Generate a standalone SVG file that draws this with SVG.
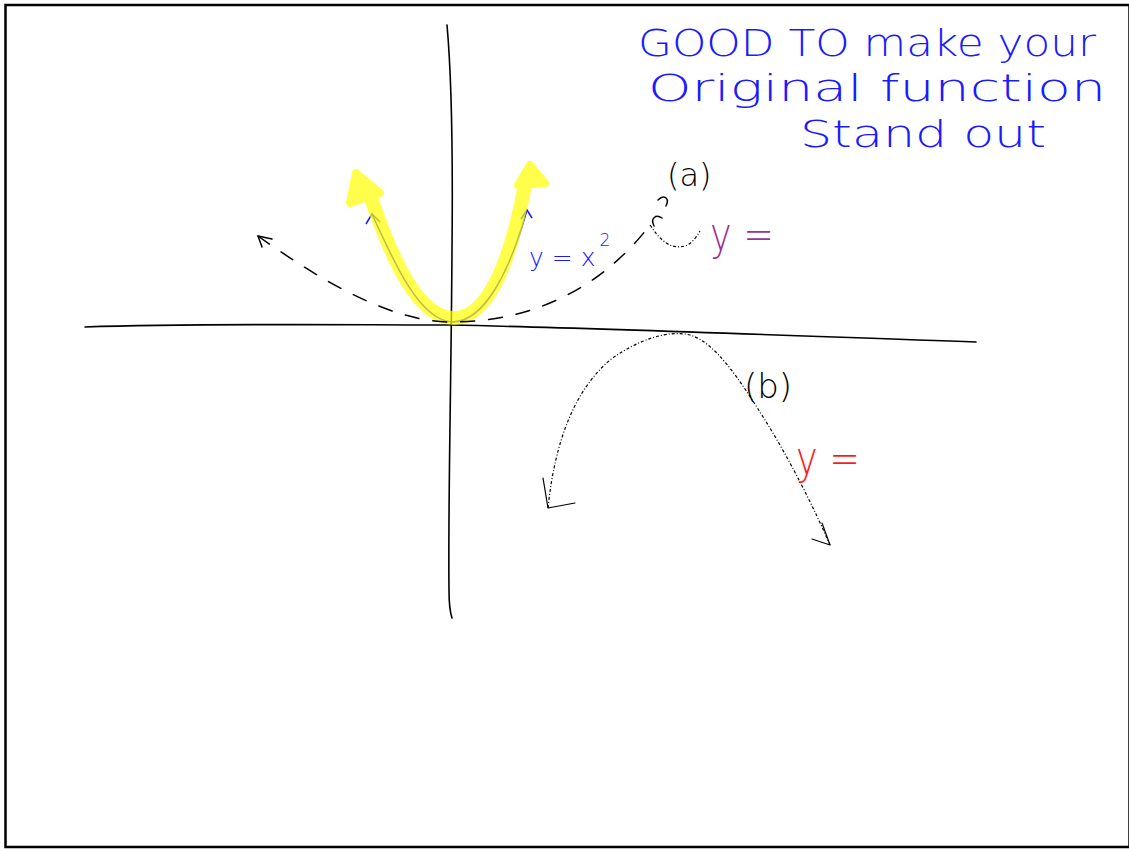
<svg xmlns="http://www.w3.org/2000/svg" width="1129" height="849" viewBox="0 0 1129 849">
<style>
.hand{font-family:"DejaVu Sans ExtraLight","DejaVu Sans","Liberation Sans",sans-serif;font-weight:200}
.axis{fill:none;stroke:#000;stroke-width:1.6;stroke-linecap:round}
.dash{fill:none;stroke:#000;stroke-width:1.5;stroke-dasharray:14 14;stroke-linecap:round}
.dot{fill:none;stroke:#000;stroke-width:1.2;stroke-dasharray:3 2 1 2}
.thin{fill:none;stroke:#000;stroke-width:1.5;stroke-linecap:round;stroke-linejoin:round}
</style>
<rect x="0" y="0" width="1129" height="849" fill="#fff"/>
<rect x="5.5" y="5" width="1124" height="842" fill="none" stroke="#000" stroke-width="2.5"/>
<g id="axes">
<path class="axis" d="M85,327 C200,323 350,325 450,325 C600,328 800,336 976,342"/>
<path class="axis" d="M447,25 C452,80 453,150 452,250 C451,400 448,500 449,590 C449,605 450,612 452,618"/>
</g>
<g id="original-function">
<path d="M372,214 C395,265 420,320 452,322 C485,322 510,270 527,210" fill="none" stroke="#1a1aff" stroke-width="1.5"/>
<path d="M366,224 L372,214 L380,222 M521,219 L527,210 L532,218" fill="none" stroke="#1a1aff" stroke-width="1.5"/>
<g opacity="0.7">
<path d="M370,195 C392,260 418,318 454,318 C490,318 512,255 526,180" fill="none" stroke="#ffff00" stroke-width="14" stroke-linecap="round"/>
<path d="M350,203 L356,173 L380,193 Z" fill="#ffff00" stroke="#ffff00" stroke-width="8" stroke-linejoin="round"/>
<path d="M518,185 L530,165 L545,183 Z" fill="#ffff00" stroke="#ffff00" stroke-width="8" stroke-linejoin="round"/>
</g>
<text class="hand" x="529" y="266" font-size="25" fill="#1a1aff">y = x<tspan font-size="17" dx="4" dy="-20">2</tspan></text>
</g>
<g id="connectors">
<path class="dash" d="M258,236 C320,280 390,322 452,322 C530,322 600,290 650,225"/>
<path class="thin" d="M258,236 L272,239 M258,236 L262,247"/>
<path class="dot" d="M650,225 C660,240 670,250 685,246 C693,243 697,236 700,231"/>
<path class="thin" d="M654,226 C650,218 656,214 662,218 M658,200 C664,194 670,198 666,206"/>
<path class="dot" d="M548,508 C555,440 575,390 610,360 C640,338 670,330 690,335 C715,342 740,380 765,420 C790,460 815,510 830,545"/>
<path class="thin" style="stroke-width:1.2" d="M548,508 L543,478 M548,508 L575,503 M830,545 L822,523 M830,545 L812,539"/>
</g>
<g id="label-a">
<text class="hand" x="667" y="186" font-size="32" fill="#000">(a)</text>
<text class="hand" x="710" y="250" font-size="46" fill="#993399" textLength="64" lengthAdjust="spacingAndGlyphs">y =</text>
</g>
<g id="label-b">
<text class="hand" x="744" y="398" font-size="34" fill="#000">(b)</text>
<text class="hand" x="796" y="474" font-size="46" fill="#ff1a1a" textLength="64" lengthAdjust="spacingAndGlyphs">y =</text>
</g>
<g id="note" fill="#1a1aff">
<text class="hand" x="638" y="56" font-size="38" textLength="458" lengthAdjust="spacingAndGlyphs">GOOD TO make your</text>
<text class="hand" x="648" y="101" font-size="38" textLength="458" lengthAdjust="spacingAndGlyphs">Original function</text>
<text class="hand" x="800" y="147" font-size="38" textLength="246" lengthAdjust="spacingAndGlyphs">Stand out</text>
</g>
</svg>
